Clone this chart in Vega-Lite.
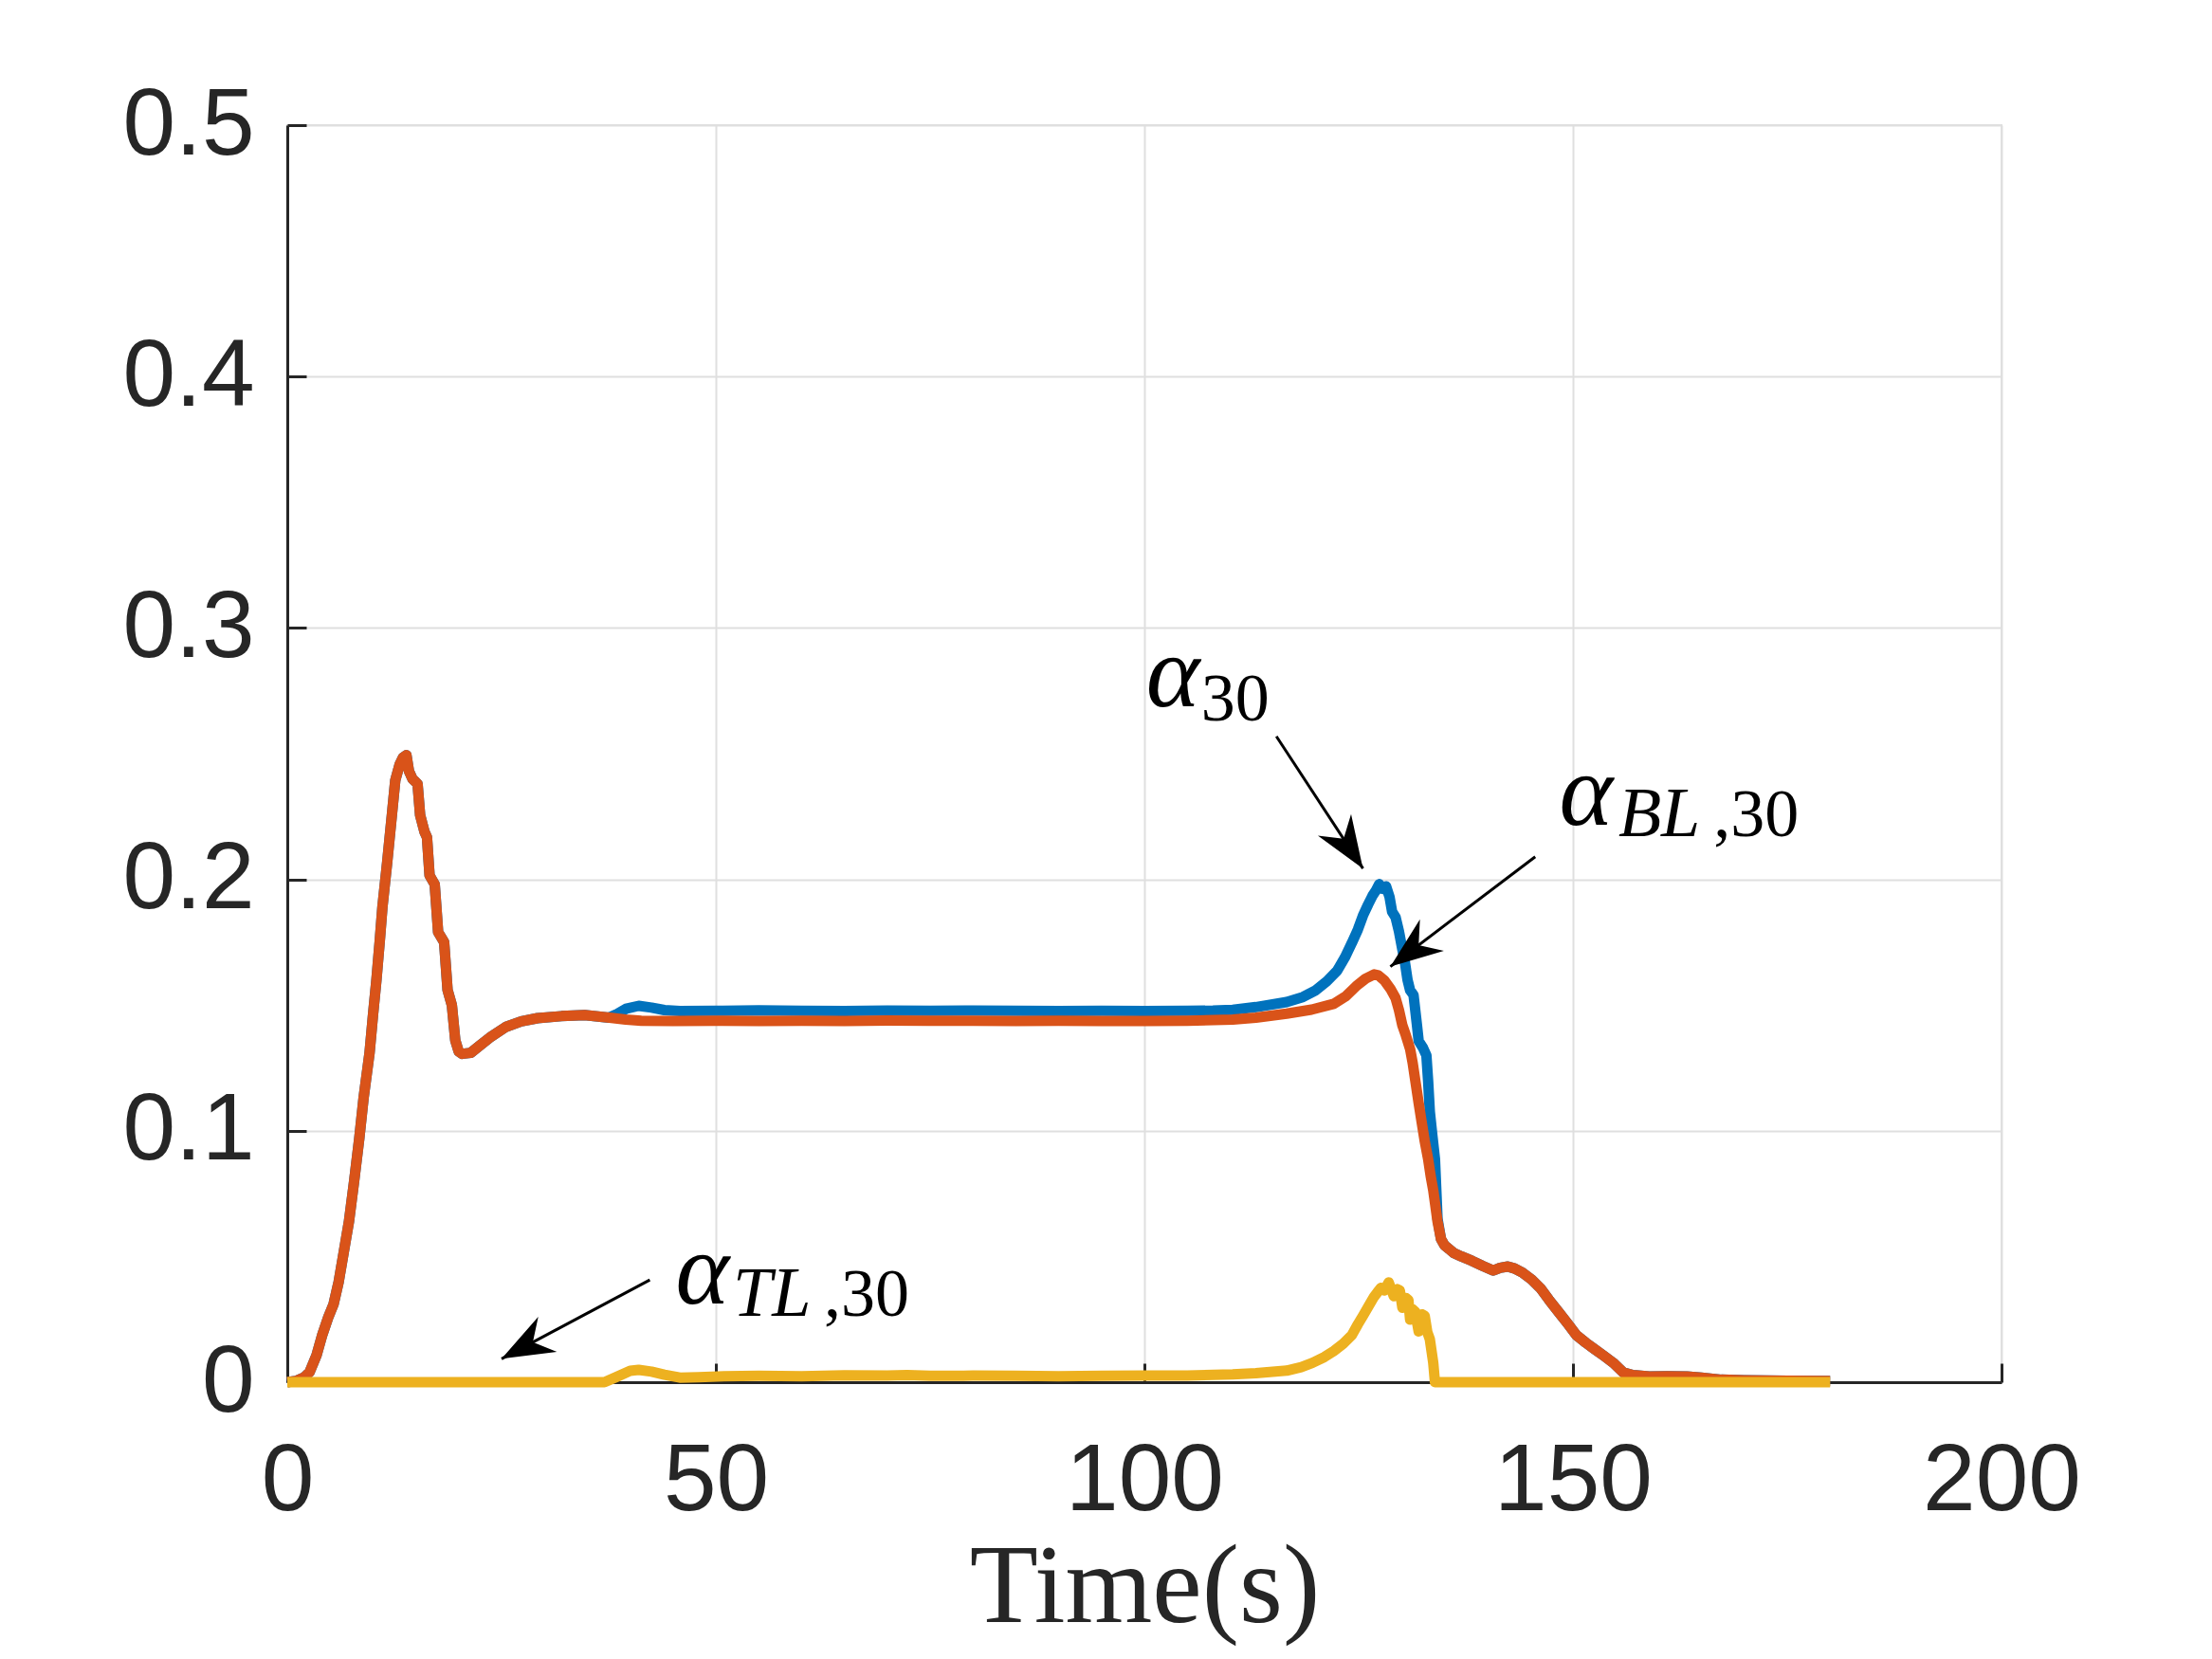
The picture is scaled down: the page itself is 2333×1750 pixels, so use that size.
{
  "$schema": "https://vega.github.io/schema/vega-lite/v6.json",
  "width": 1808,
  "height": 1326,
  "autosize": {"type": "none"},
  "padding": {"left": 303, "top": 132, "right": 222, "bottom": 292},
  "background": "white",
  "config": {
    "view": {"stroke": "#dfdfdf", "strokeWidth": 2},
    "axis": {
      "labelFont": "Liberation Sans",
      "labelFontSize": 100,
      "labelColor": "#262626",
      "labelFlush": false,
      "labelOverlap": false,
      "domainColor": "#262626",
      "domainWidth": 3,
      "tickColor": "#262626",
      "tickWidth": 3,
      "tickSize": -20,
      "gridColor": "#dfdfdf",
      "gridWidth": 2
    }
  },
  "datasets": {
    "alpha30": [
      {"t": 0, "v": 0}, {"t": 1, "v": 0.0005}, {"t": 2, "v": 0.002}, {"t": 2.6, "v": 0.004},
      {"t": 3.4, "v": 0.0106}, {"t": 4.1, "v": 0.019}, {"t": 4.8, "v": 0.026}, {"t": 5.4, "v": 0.031},
      {"t": 6.0, "v": 0.04}, {"t": 6.6, "v": 0.052}, {"t": 7.2, "v": 0.064}, {"t": 7.8, "v": 0.08},
      {"t": 8.4, "v": 0.097}, {"t": 8.9, "v": 0.113}, {"t": 9.6, "v": 0.131}, {"t": 10.0, "v": 0.146},
      {"t": 10.4, "v": 0.16}, {"t": 10.8, "v": 0.176}, {"t": 11.1, "v": 0.189}, {"t": 11.65, "v": 0.2066},
      {"t": 12.2, "v": 0.2255}, {"t": 12.6, "v": 0.2394}, {"t": 13.1, "v": 0.2456}, {"t": 13.5, "v": 0.2485},
      {"t": 13.9, "v": 0.2494}, {"t": 14.2, "v": 0.243}, {"t": 14.6, "v": 0.24}, {"t": 15.2, "v": 0.238},
      {"t": 15.5, "v": 0.2255}, {"t": 16.0, "v": 0.219}, {"t": 16.3, "v": 0.2167}, {"t": 16.6, "v": 0.2016},
      {"t": 17.2, "v": 0.198}, {"t": 17.6, "v": 0.179}, {"t": 18.3, "v": 0.175}, {"t": 18.7, "v": 0.156},
      {"t": 19.2, "v": 0.15}, {"t": 19.6, "v": 0.136}, {"t": 20.0, "v": 0.1315}, {"t": 20.4, "v": 0.1306},
      {"t": 21.4, "v": 0.131}, {"t": 22.5, "v": 0.134}, {"t": 23.6, "v": 0.137}, {"t": 25.5, "v": 0.1413},
      {"t": 27.3, "v": 0.1435}, {"t": 29.2, "v": 0.1448}, {"t": 32, "v": 0.1456}, {"t": 34.7, "v": 0.146},
      {"t": 37.5, "v": 0.145}, {"t": 38.5, "v": 0.1465}, {"t": 39.5, "v": 0.1485}, {"t": 41.0, "v": 0.1497},
      {"t": 42.5, "v": 0.149}, {"t": 44, "v": 0.148}, {"t": 45.8, "v": 0.1476}, {"t": 50, "v": 0.1477},
      {"t": 55, "v": 0.1479}, {"t": 60, "v": 0.1477}, {"t": 65, "v": 0.1476}, {"t": 70, "v": 0.1478},
      {"t": 75, "v": 0.1477}, {"t": 80, "v": 0.1478}, {"t": 85, "v": 0.1477}, {"t": 90, "v": 0.1476},
      {"t": 95, "v": 0.1477}, {"t": 100, "v": 0.1476}, {"t": 105, "v": 0.1477}, {"t": 108, "v": 0.1478},
      {"t": 110.3, "v": 0.1481}, {"t": 113, "v": 0.1492}, {"t": 116.6, "v": 0.1512}, {"t": 118.5, "v": 0.1532},
      {"t": 120.0, "v": 0.1559}, {"t": 121.3, "v": 0.1595}, {"t": 122.5, "v": 0.1637}, {"t": 123.4, "v": 0.169},
      {"t": 124.2, "v": 0.1747}, {"t": 124.9, "v": 0.18}, {"t": 125.5, "v": 0.1856}, {"t": 126.1, "v": 0.19},
      {"t": 126.6, "v": 0.1934}, {"t": 127.0, "v": 0.1955}, {"t": 127.4, "v": 0.1981}, {"t": 127.8, "v": 0.1962},
      {"t": 128.2, "v": 0.1972}, {"t": 128.6, "v": 0.193}, {"t": 128.9, "v": 0.1871}, {"t": 129.3, "v": 0.185},
      {"t": 129.7, "v": 0.1793}, {"t": 130.1, "v": 0.172}, {"t": 130.4, "v": 0.1669}, {"t": 130.7, "v": 0.16},
      {"t": 131.0, "v": 0.1559}, {"t": 131.4, "v": 0.154}, {"t": 131.8, "v": 0.142}, {"t": 132.0, "v": 0.1357},
      {"t": 132.5, "v": 0.133}, {"t": 132.9, "v": 0.13}, {"t": 133.1, "v": 0.12}, {"t": 133.3, "v": 0.1076},
      {"t": 133.6, "v": 0.098}, {"t": 133.9, "v": 0.0888}, {"t": 134.2, "v": 0.065}, {"t": 134.6, "v": 0.057},
      {"t": 135.0, "v": 0.0545}, {"t": 136.1, "v": 0.0514}, {"t": 137.0, "v": 0.05}, {"t": 138.2, "v": 0.0483},
      {"t": 139.5, "v": 0.0462}, {"t": 140.7, "v": 0.0444}, {"t": 141.5, "v": 0.0455}, {"t": 142.4, "v": 0.046},
      {"t": 143.2, "v": 0.0452}, {"t": 144.1, "v": 0.0436}, {"t": 145.2, "v": 0.0408}, {"t": 146.2, "v": 0.0374},
      {"t": 147.2, "v": 0.0328}, {"t": 148.3, "v": 0.028}, {"t": 149.4, "v": 0.0232}, {"t": 150.4, "v": 0.0187},
      {"t": 151.5, "v": 0.0157}, {"t": 152.5, "v": 0.0132}, {"t": 153.6, "v": 0.0105}, {"t": 154.7, "v": 0.0077},
      {"t": 155.9, "v": 0.0038}, {"t": 157.0, "v": 0.0028}, {"t": 158.9, "v": 0.0023}, {"t": 161, "v": 0.0024},
      {"t": 163.3, "v": 0.0023}, {"t": 165, "v": 0.0018}, {"t": 167.3, "v": 0.001}, {"t": 170, "v": 0.0008},
      {"t": 175, "v": 0.0006}, {"t": 180, "v": 0.0005}
    ],
    "alphaBL": [
      {"t": 0, "v": 0}, {"t": 1, "v": 0.0005}, {"t": 2, "v": 0.002}, {"t": 2.6, "v": 0.004},
      {"t": 3.4, "v": 0.0106}, {"t": 4.1, "v": 0.019}, {"t": 4.8, "v": 0.026}, {"t": 5.4, "v": 0.031},
      {"t": 6.0, "v": 0.04}, {"t": 6.6, "v": 0.052}, {"t": 7.2, "v": 0.064}, {"t": 7.8, "v": 0.08},
      {"t": 8.4, "v": 0.097}, {"t": 8.9, "v": 0.113}, {"t": 9.6, "v": 0.131}, {"t": 10.0, "v": 0.146},
      {"t": 10.4, "v": 0.16}, {"t": 10.8, "v": 0.176}, {"t": 11.1, "v": 0.189}, {"t": 11.65, "v": 0.2066},
      {"t": 12.2, "v": 0.2255}, {"t": 12.6, "v": 0.2394}, {"t": 13.1, "v": 0.2456}, {"t": 13.5, "v": 0.2485},
      {"t": 13.9, "v": 0.2494}, {"t": 14.2, "v": 0.243}, {"t": 14.6, "v": 0.24}, {"t": 15.2, "v": 0.238},
      {"t": 15.5, "v": 0.2255}, {"t": 16.0, "v": 0.219}, {"t": 16.3, "v": 0.2167}, {"t": 16.6, "v": 0.2016},
      {"t": 17.2, "v": 0.198}, {"t": 17.6, "v": 0.179}, {"t": 18.3, "v": 0.175}, {"t": 18.7, "v": 0.156},
      {"t": 19.2, "v": 0.15}, {"t": 19.6, "v": 0.136}, {"t": 20.0, "v": 0.1315}, {"t": 20.4, "v": 0.1306},
      {"t": 21.4, "v": 0.131}, {"t": 22.5, "v": 0.134}, {"t": 23.6, "v": 0.137}, {"t": 25.5, "v": 0.1413},
      {"t": 27.3, "v": 0.1435}, {"t": 29.2, "v": 0.1448}, {"t": 32, "v": 0.1456}, {"t": 34.7, "v": 0.146},
      {"t": 37.6, "v": 0.145}, {"t": 39.5, "v": 0.1442}, {"t": 41.3, "v": 0.1438}, {"t": 45, "v": 0.1437},
      {"t": 50, "v": 0.1438}, {"t": 55, "v": 0.1437}, {"t": 60, "v": 0.1438}, {"t": 65, "v": 0.1437},
      {"t": 70, "v": 0.1439}, {"t": 75, "v": 0.1438}, {"t": 80, "v": 0.1438}, {"t": 85, "v": 0.1437},
      {"t": 90, "v": 0.1438}, {"t": 95, "v": 0.1437}, {"t": 100, "v": 0.1437}, {"t": 105, "v": 0.1438},
      {"t": 110.3, "v": 0.1442}, {"t": 113, "v": 0.145}, {"t": 116.6, "v": 0.1466}, {"t": 119.5, "v": 0.1482},
      {"t": 122.1, "v": 0.1505}, {"t": 123.5, "v": 0.1535}, {"t": 124.7, "v": 0.1575}, {"t": 125.8, "v": 0.1605},
      {"t": 126.8, "v": 0.1622}, {"t": 127.3, "v": 0.1618}, {"t": 128.0, "v": 0.1598}, {"t": 128.7, "v": 0.1565},
      {"t": 129.3, "v": 0.1528}, {"t": 129.7, "v": 0.148}, {"t": 130.1, "v": 0.1419}, {"t": 130.5, "v": 0.138},
      {"t": 131.0, "v": 0.1325}, {"t": 131.3, "v": 0.127}, {"t": 131.6, "v": 0.1201}, {"t": 132.0, "v": 0.111},
      {"t": 132.3, "v": 0.1045}, {"t": 132.7, "v": 0.096}, {"t": 133.1, "v": 0.0888}, {"t": 133.4, "v": 0.082},
      {"t": 133.7, "v": 0.0764}, {"t": 134.2, "v": 0.0639}, {"t": 134.6, "v": 0.057}, {"t": 135.0, "v": 0.0545},
      {"t": 136.1, "v": 0.0514}, {"t": 137.0, "v": 0.05}, {"t": 138.2, "v": 0.0483}, {"t": 139.5, "v": 0.0462},
      {"t": 140.7, "v": 0.0444}, {"t": 141.5, "v": 0.0455}, {"t": 142.4, "v": 0.046}, {"t": 143.2, "v": 0.0452},
      {"t": 144.1, "v": 0.0436}, {"t": 145.2, "v": 0.0408}, {"t": 146.2, "v": 0.0374}, {"t": 147.2, "v": 0.0328},
      {"t": 148.3, "v": 0.028}, {"t": 149.4, "v": 0.0232}, {"t": 150.4, "v": 0.0187}, {"t": 151.5, "v": 0.0157},
      {"t": 152.5, "v": 0.0132}, {"t": 153.6, "v": 0.0105}, {"t": 154.7, "v": 0.0077}, {"t": 155.9, "v": 0.0038},
      {"t": 157.0, "v": 0.0028}, {"t": 158.9, "v": 0.0023}, {"t": 161, "v": 0.0024}, {"t": 163.3, "v": 0.0023},
      {"t": 165, "v": 0.0018}, {"t": 167.3, "v": 0.001}, {"t": 170, "v": 0.0008}, {"t": 175, "v": 0.0006},
      {"t": 180, "v": 0.0005}
    ],
    "alphaTL": [
      {"t": 0, "v": 0}, {"t": 37.0, "v": 0}, {"t": 38.5, "v": 0.0022}, {"t": 40.0, "v": 0.0045},
      {"t": 41.0, "v": 0.0049}, {"t": 42.5, "v": 0.0042}, {"t": 44.0, "v": 0.003}, {"t": 45.8, "v": 0.0018},
      {"t": 48, "v": 0.002}, {"t": 51, "v": 0.0024}, {"t": 55, "v": 0.0025}, {"t": 60, "v": 0.0024},
      {"t": 65, "v": 0.0027}, {"t": 70, "v": 0.0026}, {"t": 72.3, "v": 0.0028}, {"t": 75, "v": 0.0025},
      {"t": 80, "v": 0.0026}, {"t": 85, "v": 0.0025}, {"t": 90, "v": 0.0024}, {"t": 95, "v": 0.0025},
      {"t": 100, "v": 0.0026}, {"t": 105, "v": 0.0026}, {"t": 110.3, "v": 0.0031}, {"t": 113, "v": 0.0036},
      {"t": 116.6, "v": 0.0046}, {"t": 118.3, "v": 0.006}, {"t": 119.6, "v": 0.0077}, {"t": 121, "v": 0.01},
      {"t": 122.1, "v": 0.0124}, {"t": 123.2, "v": 0.0153}, {"t": 124.2, "v": 0.0187}, {"t": 124.9, "v": 0.023},
      {"t": 125.5, "v": 0.0264}, {"t": 126.3, "v": 0.0311}, {"t": 126.8, "v": 0.034}, {"t": 127.2, "v": 0.0358},
      {"t": 127.6, "v": 0.0375}, {"t": 128.0, "v": 0.0365}, {"t": 128.5, "v": 0.0397}, {"t": 129.1, "v": 0.0342},
      {"t": 129.5, "v": 0.037}, {"t": 129.8, "v": 0.0365}, {"t": 130.1, "v": 0.0296}, {"t": 130.5, "v": 0.0335},
      {"t": 130.8, "v": 0.0327}, {"t": 131.0, "v": 0.0249}, {"t": 131.3, "v": 0.029}, {"t": 131.6, "v": 0.028},
      {"t": 132.0, "v": 0.0202}, {"t": 132.4, "v": 0.027}, {"t": 132.7, "v": 0.0264}, {"t": 133.0, "v": 0.02},
      {"t": 133.3, "v": 0.0171}, {"t": 133.7, "v": 0.0077}, {"t": 133.9, "v": 0}, {"t": 180, "v": 0}
    ],
    "arrows": [
      {"t1": 115.4, "v1": 0.2569, "t2": 125.5, "v2": 0.2043, "dir": 146.9},
      {"t1": 145.6, "v1": 0.209, "t2": 128.7, "v2": 0.1653, "dir": 232.8},
      {"t1": 42.3, "v1": 0.0407, "t2": 25.0, "v2": 0.0093, "dir": 241.95}
    ],
    "symbols": [
      {"t": 100.2, "v": 0.2689, "label": "α"},
      {"t": 148.4, "v": 0.2217, "label": "α"},
      {"t": 45.3, "v": 0.0313, "label": "α"}
    ],
    "subLetters": [
      {"t": 155.3, "v": 0.2173, "label": "BL"},
      {"t": 52.0, "v": 0.0263, "label": "TL"}
    ],
    "subDigits": [
      {"t": 106.6, "v": 0.2632, "label": "30"},
      {"t": 166.4, "v": 0.2173, "label": ",30"},
      {"t": 62.6, "v": 0.0263, "label": ",30"}
    ]
  },
  "layer": [
    {
      "data": {"name": "alpha30"},
      "mark": {"type": "line", "color": "#0072BD", "strokeWidth": 11, "strokeJoin": "round", "strokeCap": "butt"},
      "encoding": {
        "x": {
          "field": "t", "type": "quantitative",
          "scale": {"domain": [0, 200], "nice": false},
          "axis": {
            "values": [0, 50, 100, 150, 200], "format": "d", "grid": true,
            "labelPadding": 75,
            "title": "Time(s)", "titleFont": "Liberation Serif", "titleFontSize": 118,
            "titleFontWeight": "normal", "titleColor": "#262626",
            "titleBaseline": "alphabetic", "titleY": 252
          }
        },
        "y": {
          "field": "v", "type": "quantitative",
          "scale": {"domain": [0, 0.5], "nice": false},
          "axis": {
            "values": [0, 0.1, 0.2, 0.3, 0.4, 0.5], "format": "~g", "grid": true,
            "labelPadding": 55, "title": null
          }
        }
      }
    },
    {
      "data": {"name": "alphaBL"},
      "mark": {"type": "line", "color": "#D95319", "strokeWidth": 11, "strokeJoin": "round", "strokeCap": "butt"},
      "encoding": {
        "x": {"field": "t", "type": "quantitative"},
        "y": {"field": "v", "type": "quantitative"}
      }
    },
    {
      "data": {"name": "alphaTL"},
      "mark": {"type": "line", "color": "#EDB120", "strokeWidth": 11, "strokeJoin": "round", "strokeCap": "butt"},
      "encoding": {
        "x": {"field": "t", "type": "quantitative"},
        "y": {"field": "v", "type": "quantitative"}
      }
    },
    {
      "data": {"name": "arrows"},
      "mark": {"type": "rule", "color": "black", "strokeWidth": 3},
      "encoding": {
        "x": {"field": "t1", "type": "quantitative"},
        "y": {"field": "v1", "type": "quantitative"},
        "x2": {"field": "t2"},
        "y2": {"field": "v2"}
      }
    },
    {
      "data": {"name": "arrows"},
      "mark": {
        "type": "point", "shape": "M0,0 L0.38,1 L0,0.68 L-0.38,1 Z",
        "filled": true, "color": "black", "opacity": 1, "size": 12100, "strokeWidth": 0
      },
      "encoding": {
        "x": {"field": "t2", "type": "quantitative"},
        "y": {"field": "v2", "type": "quantitative"},
        "angle": {"field": "dir", "type": "quantitative", "scale": null}
      }
    },
    {
      "data": {"name": "symbols"},
      "mark": {"type": "text", "font": "Liberation Serif", "fontStyle": "italic", "fontSize": 108, "align": "left", "baseline": "alphabetic", "color": "black"},
      "encoding": {
        "x": {"field": "t", "type": "quantitative"},
        "y": {"field": "v", "type": "quantitative"},
        "text": {"field": "label"}
      }
    },
    {
      "data": {"name": "subLetters"},
      "mark": {"type": "text", "font": "Liberation Serif", "fontStyle": "italic", "fontSize": 74, "align": "left", "baseline": "alphabetic", "color": "black"},
      "encoding": {
        "x": {"field": "t", "type": "quantitative"},
        "y": {"field": "v", "type": "quantitative"},
        "text": {"field": "label"}
      }
    },
    {
      "data": {"name": "subDigits"},
      "mark": {"type": "text", "font": "Liberation Serif", "fontSize": 72, "align": "left", "baseline": "alphabetic", "color": "black"},
      "encoding": {
        "x": {"field": "t", "type": "quantitative"},
        "y": {"field": "v", "type": "quantitative"},
        "text": {"field": "label"}
      }
    }
  ]
}
